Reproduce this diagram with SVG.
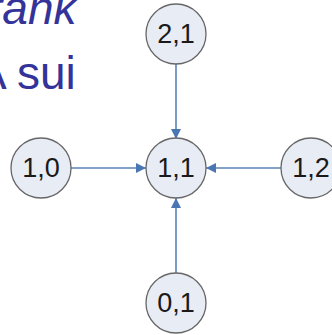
<svg xmlns="http://www.w3.org/2000/svg" width="332" height="335" viewBox="0 0 332 335">
<defs>
<style>
.t{font-family:"Liberation Sans",Arial,sans-serif;fill:#333399}
.n circle{fill:#e8ecf5;stroke:#666666;stroke-width:1.3}
.n text{font-family:"Liberation Sans",Arial,sans-serif;font-size:27px;fill:#1a1a1a;text-anchor:middle}
.c line{stroke:#5b82b8;stroke-width:1.6;fill:none}
</style>
<marker id="ah" viewBox="0 0 10 10" refX="10" refY="5" markerWidth="10" markerHeight="10" markerUnits="userSpaceOnUse" orient="auto">
<path d="M0,0 L10,5 L0,10 z" fill="#4a77b4"/>
</marker>
</defs>
<rect width="332" height="335" fill="#ffffff"/>
<text class="t" x="-13" y="24" font-size="46" font-style="italic">rank</text>
<text class="t" x="-24" y="89" font-size="46">A sui</text>
<g class="c">
<line x1="176" y1="64" x2="176" y2="139" marker-end="url(#ah)"/>
<line x1="71" y1="168" x2="146" y2="168" marker-end="url(#ah)"/>
<line x1="281" y1="168" x2="206" y2="168" marker-end="url(#ah)"/>
<line x1="176" y1="273" x2="176" y2="198" marker-end="url(#ah)"/>
</g>
<g id="n21" class="n"><circle cx="176" cy="34" r="30"/><text x="176" y="43">2,1</text></g>
<g id="n10" class="n"><circle cx="41" cy="168" r="30"/><text x="41" y="177">1,0</text></g>
<g id="n11" class="n"><circle cx="176" cy="168" r="30"/><text x="176" y="177">1,1</text></g>
<g id="n12" class="n"><circle cx="311" cy="168" r="30"/><text x="311" y="177">1,2</text></g>
<g id="n01" class="n"><circle cx="176" cy="303" r="30"/><text x="176" y="312">0,1</text></g>
</svg>
